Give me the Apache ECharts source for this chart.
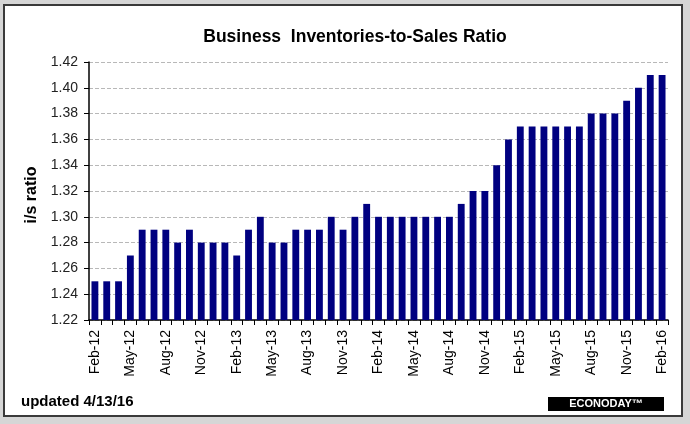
<!DOCTYPE html>
<html>
<head>
<meta charset="utf-8">
<script src="https://cdn.jsdelivr.net/npm/echarts@6/dist/echarts.min.js"></script>
<style>
html,body{margin:0;padding:0;background:#d6d6d6;}
#c{width:690px;height:424px;}
</style>
</head>
<body>
<div id="c"></div>
<script>
const months = [
 'Feb-12','Mar-12','Apr-12','May-12','Jun-12','Jul-12','Aug-12','Sep-12','Oct-12','Nov-12','Dec-12',
 'Jan-13','Feb-13','Mar-13','Apr-13','May-13','Jun-13','Jul-13','Aug-13','Sep-13','Oct-13','Nov-13','Dec-13',
 'Jan-14','Feb-14','Mar-14','Apr-14','May-14','Jun-14','Jul-14','Aug-14','Sep-14','Oct-14','Nov-14','Dec-14',
 'Jan-15','Feb-15','Mar-15','Apr-15','May-15','Jun-15','Jul-15','Aug-15','Sep-15','Oct-15','Nov-15','Dec-15',
 'Jan-16','Feb-16'
];
const ratio = [
 1.25,1.25,1.25,1.27,1.29,1.29,1.29,1.28,1.29,1.28,1.28,
 1.28,1.27,1.29,1.30,1.28,1.28,1.29,1.29,1.29,1.30,1.29,1.30,
 1.31,1.30,1.30,1.30,1.30,1.30,1.30,1.30,1.31,1.32,1.32,1.34,
 1.36,1.37,1.37,1.37,1.37,1.37,1.37,1.38,1.38,1.38,1.39,1.40,
 1.41,1.41
];
const yMin = 1.22, yMax = 1.42, yStep = 0.02;
const titleText = 'Business  Inventories-to-Sales Ratio';
const yName = 'i/s ratio';
const footNote = 'updated 4/13/16';
const logoText = 'ECONODAY\u2122';

const chart = echarts.init(document.getElementById('c'));
chart.setOption({
  backgroundColor: '#d6d6d6',
  animation: false,
  graphic: [
    {type:'rect', z:-10, shape:{x:4, y:5, width:678, height:411},
     style:{fill:'#ffffff', stroke:'#3a3a3a', lineWidth:2}},
    {type:'text', left:21, top:394, style:{text:footNote, font:'bold 15px "Liberation Sans Narrow", "Liberation Sans", Arial', fill:'#000'}},
    {type:'group', left:548, top:397, children:[
      {type:'rect', shape:{x:0, y:0, width:116, height:14}, style:{fill:'#000'}},
      {type:'text', style:{x:58, y:7, text:logoText, align:'center', verticalAlign:'middle', font:'bold 11px "Liberation Sans", Arial', fill:'#fff'}}
    ]}
  ],
  title: {
    text: titleText, left: 350, top: 23, textAlign: 'center',
    textStyle: {fontFamily:'"Liberation Sans Narrow", "Liberation Sans", Arial', fontWeight:'bold', fontSize:17.5, color:'#000'}
  },
  grid: {left:89, right:22, top:62, bottom:104, containLabel:false},
  xAxis: {
    type:'category', data: months,
    axisLine:{show:true, lineStyle:{color:'#000', width:1.5}},
    axisTick:{show:true, interval:0, length:5, inside:false, lineStyle:{color:'#000'}},
    axisLabel:{interval:2, rotate:90, margin:10, fontSize:14, color:'#000', fontFamily:'"Liberation Sans", Arial'},
    splitLine:{show:false}
  },
  yAxis: {
    type:'value', min:yMin, max:yMax, interval:yStep,
    name: yName, nameLocation:'middle', nameGap:49, nameRotate:90,
    nameTextStyle:{fontWeight:'bold', fontSize:16, color:'#000', fontFamily:'"Liberation Sans", Arial', padding:[0,8,0,0]},
    axisLine:{show:true, lineStyle:{color:'#000', width:1.5}},
    axisTick:{show:true, length:5, lineStyle:{color:'#000'}},
    axisLabel:{formatter: v => v.toFixed(2), fontSize:14, color:'#222', margin:11, fontFamily:'"Liberation Sans", Arial'},
    splitLine:{show:true, lineStyle:{color:'#b8b8b8', type:'dashed', width:1}}
  },
  series: [{
    type:'bar', data: ratio, barCategoryGap:'42%',
    itemStyle:{color:'#000080'}
  }]
});
</script>
</body>
</html>
